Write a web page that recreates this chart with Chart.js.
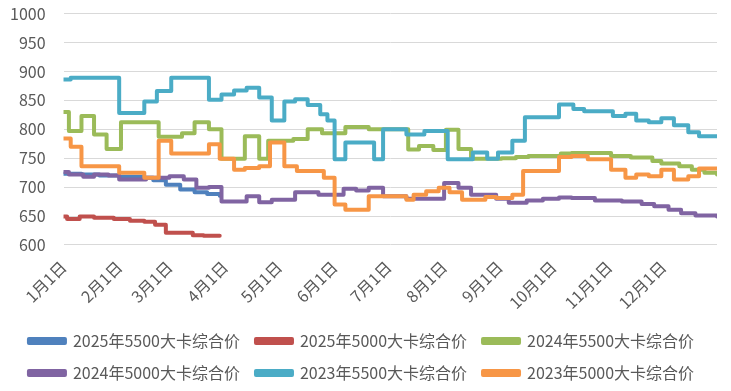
<!DOCTYPE html>
<html lang="zh">
  <head>
    <meta charset="UTF-8" />
    <title>动力煤综合价</title>
    <script src="https://cdn.jsdelivr.net/npm/chart.js"></script>
    <style>
      html, body { margin: 0; padding: 0; background: #fff; }
      #wrap { width: 731px; height: 391px; position: relative; }
    </style>
  </head>
  <body>
    <div id="wrap"><canvas id="myChart"></canvas></div>

    <script>
      // x axis: day of year (0 = 1月1日), ticks at month starts
      const monthStarts = [0, 31, 59, 90, 120, 151, 181, 212, 243, 273, 304, 334];
      const monthLabels = ['1月1日', '2月1日', '3月1日', '4月1日', '5月1日', '6月1日',
                           '7月1日', '8月1日', '9月1日', '10月1日', '11月1日', '12月1日'];
      const yTicks = [600, 650, 700, 750, 800, 850, 900, 950, 1000];

      // each series: days where the price changes, and the price from that day on
      const days2025_5500 = [0, 10, 20, 31, 45, 50, 57, 65, 73, 80, 87];
      const vals2025_5500 = [723, 722, 720, 718, 716, 712, 704, 696, 691, 688, 685];

      const days2025_5000 = [0, 2, 9, 17, 28, 37, 45, 51, 57, 72, 78, 87];
      const vals2025_5000 = [649, 645, 649, 647, 645, 642, 640, 635, 621, 617, 616, 616];

      const days2024_5500 = [0, 3, 10, 17, 24, 32, 53, 66, 73, 81, 88, 101, 109, 114, 128, 136, 144, 157, 170,
                             192, 198, 206, 213, 220, 227, 244, 252, 259, 277, 283, 305, 316, 328, 333, 343, 350, 357, 364];
      const vals2024_5500 = [830, 797, 823, 791, 766, 812, 787, 793, 812, 800, 749, 788, 749, 780, 783, 800, 793, 804, 800,
                             765, 771, 764, 799, 766, 749, 750, 752, 754, 758, 759, 754, 751, 745, 741, 736, 730, 725, 722];

      const days2024_5000 = [0, 3, 11, 17, 25, 31, 46, 59, 67, 74, 81, 88, 102, 109, 116, 129, 142, 156, 163, 170, 178,
                             191, 212, 220, 227, 241, 248, 258, 267, 276, 283, 296, 311, 322, 329, 337, 344, 352, 364];
      const vals2024_5000 = [726, 722, 718, 722, 720, 713, 716, 719, 713, 699, 700, 675, 684, 674, 678, 691, 687, 697, 694, 699, 684,
                             680, 707, 699, 687, 680, 673, 677, 680, 682, 681, 677, 675, 671, 667, 661, 655, 651, 649];

      const days2023_5500 = [0, 4, 31, 45, 52, 60, 81, 88, 95, 102, 109, 116, 123, 129, 136, 143, 147, 151, 157, 173, 178,
                             191, 201, 214, 228, 236, 242, 250, 257, 276, 284, 290, 306, 313, 319, 326, 333, 340, 348, 354, 364];
      const vals2023_5500 = [886, 889, 828, 848, 866, 889, 851, 860, 867, 872, 855, 815, 848, 852, 842, 826, 815, 748, 777, 748, 800,
                             791, 797, 748, 760, 749, 760, 780, 821, 843, 835, 831, 823, 827, 815, 812, 819, 807, 795, 788, 788];

      const days2023_5000 = [0, 4, 10, 31, 45, 53, 60, 81, 87, 95, 101, 109, 115, 123, 130, 145, 151, 157, 170,
                             191, 195, 202, 209, 215, 222, 235, 241, 250, 256, 276, 283, 292, 305, 313, 319, 326, 333, 340, 348, 354, 364];
      const vals2023_5000 = [784, 770, 736, 725, 716, 780, 758, 774, 749, 730, 733, 736, 777, 736, 728, 716, 670, 661, 684,
                             678, 687, 693, 699, 691, 678, 683, 681, 687, 728, 752, 754, 748, 730, 716, 722, 719, 730, 713, 719, 732, 732];

      const seriesNames = ['2025年5500大卡综合价', '2025年5000大卡综合价', '2024年5500大卡综合价',
                           '2024年5000大卡综合价', '2023年5500大卡综合价', '2023年5000大卡综合价'];
      const seriesColors = ['#4F81BD', '#C0504D', '#9BBB59', '#8064A2', '#4BACC6', '#F79646'];
      const seriesDays = [days2025_5500, days2025_5000, days2024_5500, days2024_5000, days2023_5500, days2023_5000];
      const seriesVals = [vals2025_5500, vals2025_5000, vals2024_5500, vals2024_5000, vals2023_5500, vals2023_5000];

      const fontFamily = '"Noto Sans CJK SC", "Liberation Sans", sans-serif';
      const textColor = '#595959';

      const datasets = seriesNames.map((name, i) => ({
        label: name,
        data: seriesDays[i].map((d, j) => ({ x: d, y: seriesVals[i][j] })),
        borderColor: seriesColors[i],
        backgroundColor: seriesColors[i],
        borderWidth: 4,
        stepped: true,
        pointRadius: 0,
        borderJoinStyle: 'round',
        borderCapStyle: 'round',
        // later series drawn on top, like the original
        order: seriesNames.length - i
      }));

      const ctx = document.getElementById('myChart').getContext('2d');
      const myChart = new Chart(ctx, {
        type: 'line',
        data: { datasets: datasets },
        options: {
          responsive: true,
          maintainAspectRatio: false,
          animation: false,
          layout: { padding: { top: 0, right: 14, left: 6, bottom: 0 } },
          plugins: {
            tooltip: { enabled: false },
            legend: {
              position: 'bottom',
              labels: {
                sort: (a, b) => a.datasetIndex - b.datasetIndex,
                boxWidth: 36,
                boxHeight: 4,
                padding: 16,
                color: textColor,
                font: { family: fontFamily, size: 16 }
              }
            }
          },
          scales: {
            x: {
              type: 'linear',
              min: 0,
              max: 364,
              afterBuildTicks: axis => { axis.ticks = monthStarts.map(v => ({ value: v })); },
              ticks: {
                autoSkip: false,
                minRotation: 45,
                maxRotation: 45,
                padding: 4.5,
                color: textColor,
                font: { family: fontFamily, size: 16 },
                callback: value => monthLabels[monthStarts.indexOf(value)]
              },
              grid: { display: false },
              border: { display: false }
            },
            y: {
              min: 600,
              max: 1000,
              afterBuildTicks: axis => { axis.ticks = yTicks.map(v => ({ value: v })); },
              ticks: {
                padding: 4,
                color: textColor,
                font: { family: fontFamily, size: 16 },
                callback: value => String(value)
              },
              // invisible tick marks keep the gap between labels and plot
              grid: { color: '#D9D9D9', lineWidth: 1, drawTicks: true, tickLength: 14, tickColor: 'rgba(0,0,0,0)' },
              border: { display: false }
            }
          }
        }
      });
    </script>
  </body>
</html>
